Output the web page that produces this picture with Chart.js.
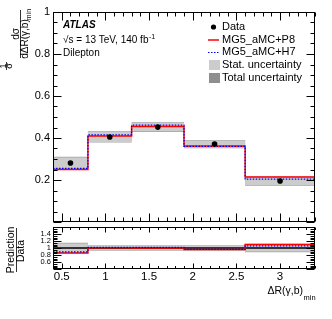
<!DOCTYPE html>
<html>
<head>
<meta charset="utf-8">
<script src="https://cdn.jsdelivr.net/npm/chart.js@4.4.1/dist/chart.umd.min.js"></script>
<style>
  html, body { margin: 0; padding: 0; background: #fff; }
  #wrap { position: relative; width: 332px; height: 319px; }
  #wrap canvas { position: absolute; left: 0; top: 0; }
</style>
</head>
<body>
<div id="wrap">
  <canvas id="mainChart" width="332" height="319"></canvas>
  <canvas id="ratioChart" width="332" height="319"></canvas>
</div>
<script>
// Binning of dR(gamma,b)_min
const binEdges = [0.4, 0.8, 1.3, 1.9, 2.6, 3.4];
const binCenters = [0.6, 1.05, 1.6, 2.25, 3.0];

// Normalised cross-section (main panel)
const dataVals = [0.281, 0.405, 0.452, 0.371, 0.195];
const statUnc = [0.026, 0.024, 0.020, 0.017, 0.019];
const totalUnc = [0.030, 0.027, 0.023, 0.020, 0.022];
const p8Vals = [0.250, 0.409, 0.455, 0.362, 0.214];
const h7Vals = [0.255, 0.415, 0.461, 0.360, 0.204];

// Prediction / Data (ratio panel)
const ratioData = [1, 1, 1, 1, 1];
const ratioStat = [0.13, 0.07, 0.07, 0.07, 0.10];
const ratioTotal = [0.15, 0.08, 0.08, 0.08, 0.12];
const ratioP8 = [0.86, 1.01, 1.00, 0.96, 1.10];
const ratioH7 = [0.89, 1.02, 1.02, 0.96, 1.06];

// Tick labels
const xTicks = [0.5, 1, 1.5, 2, 2.5, 3];
const yTicksMain = [0.2, 0.4, 0.6, 0.8, 1];
const yTicksRatio = [0.6, 0.8, 1, 1.2, 1.4];

const FONT = '"Liberation Sans", Arial, Helvetica, sans-serif';
Chart.defaults.font.family = FONT;
Chart.defaults.color = '#000';

const STAT_COLOR = '#cccccc';
const TOTAL_COLOR = '#a3a3a3';

// histogram as stepped line: one point per left edge plus the last right edge
function histo(vals) {
    const pts = vals.map((v, i) => ({ x: binEdges[i], y: v }));
    pts.push({ x: binEdges[vals.length], y: vals[vals.length - 1] });
    return pts;
}
const plus = (a, b) => a.map((v, i) => v + b[i]);
const minus = (a, b) => a.map((v, i) => v - b[i]);

function bandSets(center, unc, color, order) {
    return [
        { data: histo(plus(center, unc)), stepped: 'before', fill: '+1', backgroundColor: color,
          borderColor: 'transparent', borderWidth: 0, pointRadius: 0, order: order },
        { data: histo(minus(center, unc)), stepped: 'before', fill: false,
          borderColor: 'transparent', borderWidth: 0, pointRadius: 0, order: order }
    ];
}
function lineSet(vals, color, dash, width, order) {
    return { data: histo(vals), stepped: 'before', fill: false, borderColor: color,
             borderWidth: width, borderDash: dash, pointRadius: 0, order: order };
}

// tick marks inside the frame, ROOT style
function tickMarks(lo, hi, step, every, major, minor) {
    const out = [];
    const n = Math.round((hi - lo) / step);
    for (let i = 0; i <= n; i++) {
        const v = lo + i * step;
        const q = v / (step * every);
        out.push({ v: v, len: Math.abs(q - Math.round(q)) < 1e-6 ? major : minor });
    }
    return out;
}

function drawFrame(chart, xMarks, yMarks) {
    const { ctx, chartArea: a, scales: { x, y } } = chart;
    const L = Math.round(a.left) + 0.5, R = Math.round(a.right) - 0.5;
    const T = Math.round(a.top) + 0.5, B = Math.round(a.bottom) - 0.5;
    ctx.save();
    ctx.strokeStyle = '#000';
    ctx.lineWidth = 1;
    ctx.beginPath();
    xMarks.forEach(m => {
        const px = Math.round(x.getPixelForValue(m.v)) + 0.5;
        ctx.moveTo(px, B); ctx.lineTo(px, B - m.len);
        ctx.moveTo(px, T); ctx.lineTo(px, T + m.len);
    });
    yMarks.forEach(m => {
        const py = Math.round(y.getPixelForValue(m.v)) + 0.5;
        ctx.moveTo(L, py); ctx.lineTo(L + m.len, py);
        ctx.moveTo(R, py); ctx.lineTo(R - m.len, py);
    });
    ctx.stroke();
    ctx.strokeRect(L, T, R - L, B - T);
    ctx.restore();
}

function vText(ctx, text, x, y, size) {
    ctx.save();
    ctx.translate(x, y);
    ctx.rotate(-Math.PI / 2);
    ctx.font = size + 'px ' + FONT;
    ctx.textAlign = 'center';
    ctx.textBaseline = 'middle';
    ctx.fillText(text, 0, 0);
    ctx.restore();
}

function vLine(ctx, x, y1, y2) {
    ctx.beginPath();
    ctx.moveTo(x, y1);
    ctx.lineTo(x, y2);
    ctx.stroke();
}

const mainDecor = {
    id: 'mainDecor',
    afterDraw(chart) {
        drawFrame(chart, tickMarks(0.4, 3.4, 0.1, 5, 8, 4), tickMarks(0, 1, 0.05, 4, 8, 4));
        const ctx = chart.ctx;
        ctx.save();
        ctx.fillStyle = '#000';
        ctx.strokeStyle = '#000';
        ctx.lineWidth = 1;
        ctx.textBaseline = 'middle';
        ctx.textAlign = 'left';

        // ATLAS label block
        ctx.font = 'bold italic 10px ' + FONT;
        ctx.fillText('ATLAS', 63, 25);
        ctx.font = '10px ' + FONT;
        ctx.fillText('\u221As = 13 TeV, 140 fb', 63, 40.5);
        const w = ctx.measureText('\u221As = 13 TeV, 140 fb').width;
        ctx.font = '7px ' + FONT;
        ctx.fillText('-1', 63 + w + 0.5, 37);
        ctx.font = '10px ' + FONT;
        ctx.fillText('Dilepton', 63, 53);

        // legend
        ctx.font = '11px ' + FONT;
        ctx.beginPath();
        ctx.arc(213.5, 27, 2.6, 0, Math.PI * 2);
        ctx.fill();
        ctx.fillText('Data', 222, 27);

        ctx.strokeStyle = '#ff0000';
        ctx.lineWidth = 1.5;
        ctx.beginPath(); ctx.moveTo(208, 40); ctx.lineTo(219, 40); ctx.stroke();
        ctx.fillText('MG5_aMC+P8', 222, 40);

        ctx.strokeStyle = '#0000ff';
        ctx.lineWidth = 1;
        ctx.setLineDash([1.5, 1.5]);
        ctx.beginPath(); ctx.moveTo(208, 52.5); ctx.lineTo(219, 52.5); ctx.stroke();
        ctx.setLineDash([]);
        ctx.fillText('MG5_aMC+H7', 222, 52);

        ctx.fillStyle = STAT_COLOR;
        ctx.fillRect(209, 60, 11, 10);
        ctx.fillStyle = '#000';
        ctx.fillText('Stat. uncertainty', 222, 64.5);
        ctx.fillStyle = '#8f8f8f';
        ctx.fillRect(209, 73, 11, 10);
        ctx.fillStyle = '#000';
        ctx.fillText('Total uncertainty', 222, 77.5);

        // y title: 1/sigma dsigma / dDeltaR(gamma,b)_min
        ctx.strokeStyle = '#000';
        ctx.lineWidth = 0.8;
        vText(ctx, '1', 4, 66, 9);
        vLine(ctx, 6.5, 62, 70);
        vText(ctx, '\u03C3', 10, 66, 9);
        vText(ctx, 'd\u03C3', 16.5, 34, 10);
        vLine(ctx, 20.5, 10, 58);
        vText(ctx, 'd\u0394R(\u03B3,b)', 25, 39, 10);
        vText(ctx, 'min', 29.5, 14.5, 7);
        ctx.restore();
    }
};

const ratioDecor = {
    id: 'ratioDecor',
    afterDraw(chart) {
        drawFrame(chart, tickMarks(0.4, 3.4, 0.1, 5, 5, 2.5), tickMarks(0.4, 1.6, 0.05, 4, 8, 4));
        const ctx = chart.ctx;
        ctx.save();
        ctx.fillStyle = '#000';
        ctx.strokeStyle = '#000';
        ctx.lineWidth = 0.8;
        vText(ctx, 'Prediction', 11, 250, 10.5);
        vLine(ctx, 16.5, 228, 272);
        vText(ctx, 'Data', 21.5, 251, 10.5);

        ctx.textBaseline = 'middle';
        ctx.textAlign = 'right';
        ctx.font = '10.5px ' + FONT;
        ctx.fillText('\u0394R(\u03B3,b)', 303, 291.5);
        ctx.textAlign = 'left';
        ctx.font = '7.5px ' + FONT;
        ctx.fillText('min', 303.5, 297.5);
        ctx.restore();
    }
};

const baseOptions = {
    responsive: false,
    animation: false,
    events: [],
    plugins: { legend: { display: false }, tooltip: { enabled: false } }
};

new Chart(document.getElementById('mainChart'), {
    type: 'line',
    data: {
        datasets: [
            { data: binCenters.map((c, i) => ({ x: c, y: dataVals[i] })), showLine: false,
              pointRadius: 2.8, pointBackgroundColor: '#000', pointBorderWidth: 0, order: 0 },
            lineSet(h7Vals, '#0000ff', [1.5, 1.5], 1.2, 1),
            lineSet(p8Vals, '#ff0000', [], 1.5, 2),
            ...bandSets(dataVals, statUnc, STAT_COLOR, 3),
            ...bandSets(dataVals, totalUnc, TOTAL_COLOR, 4)
        ]
    },
    options: {
        ...baseOptions,
        layout: { padding: { top: 12, right: 17, bottom: 97, left: 0 } },
        scales: {
            x: { type: 'linear', min: 0.4, max: 3.4, display: false },
            y: {
                min: 0, max: 1,
                afterFit: s => { s.width = 53; },
                afterBuildTicks: s => { s.ticks = yTicksMain.map(v => ({ value: v })); },
                ticks: { autoSkip: false, padding: 3, font: { size: 11 }, callback: v => String(v) },
                grid: { display: false, drawTicks: false },
                border: { display: false }
            }
        }
    },
    plugins: [mainDecor]
});

new Chart(document.getElementById('ratioChart'), {
    type: 'line',
    data: {
        datasets: [
            lineSet(ratioH7, '#0000ff', [1.5, 1.5], 1.2, 0),
            lineSet(ratioP8, '#ff0000', [], 1.5, 1),
            lineSet(ratioData, '#000000', [], 1.3, 2),
            ...bandSets(ratioData, ratioStat, STAT_COLOR, 3),
            ...bandSets(ratioData, ratioTotal, TOTAL_COLOR, 4)
        ]
    },
    options: {
        ...baseOptions,
        layout: { padding: { top: 227, right: 17, bottom: 30, left: 0 } },
        scales: {
            x: {
                type: 'linear', min: 0.4, max: 3.4,
                afterFit: s => { s.height = 20; },
                afterBuildTicks: s => { s.ticks = xTicks.map(v => ({ value: v })); },
                ticks: { autoSkip: false, maxRotation: 0, padding: 1, font: { size: 11.5 }, callback: v => String(v) },
                grid: { display: false, drawTicks: false },
                border: { display: false }
            },
            y: {
                min: 0.4, max: 1.6,
                afterFit: s => { s.width = 53; },
                afterBuildTicks: s => { s.ticks = yTicksRatio.map(v => ({ value: v })); },
                ticks: { autoSkip: false, padding: 2, font: { size: 7.5 }, callback: v => String(v) },
                grid: { display: false, drawTicks: false },
                border: { display: false }
            }
        }
    },
    plugins: [ratioDecor]
});
</script>
</body>
</html>
